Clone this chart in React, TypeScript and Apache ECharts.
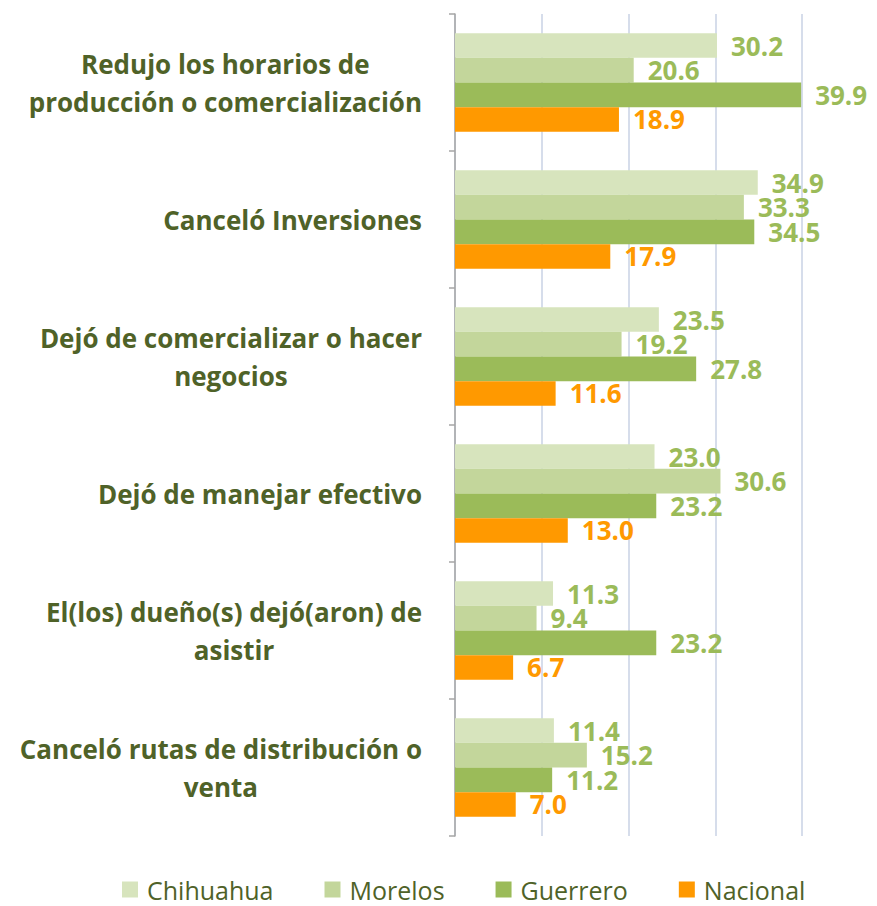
import React, { useEffect, useRef } from 'react';
import * as echarts from 'echarts';

const categories = [
  'Redujo los horarios de\nproducción o comercialización',
  'Canceló Inversiones',
  'Dejó de comercializar o hacer\nnegocios',
  'Dejó de manejar efectivo',
  'El(los) dueño(s) dejó(aron) de\nasistir',
  'Canceló rutas de distribución o\nventa',
];
const seriesNames = ['Chihuahua', 'Morelos', 'Guerrero', 'Nacional'];
const chihuahua = [30.2, 34.9, 23.5, 23.0, 11.3, 11.4];
const morelos = [20.6, 33.3, 19.2, 30.6, 9.4, 15.2];
const guerrero = [39.9, 34.5, 27.8, 23.2, 23.2, 11.2];
const nacional = [18.9, 17.9, 11.6, 13.0, 6.7, 7.0];
const xMin = 0;
const xMax = 40;
const xInterval = 10;

const barColors = ['#D7E4BD', '#C3D69B', '#9BBB59', '#FF9900'];
const labelColors = ['#9BBB59', '#9BBB59', '#9BBB59', '#FF9900'];
const textColor = '#4F6228';
const FONT = '"Open Sans", "Noto Sans", sans-serif';

export default function App() {
  const ref = useRef<HTMLDivElement>(null);
  useEffect(() => {
    document.body.style.margin = '0';
    const chart = echarts.init(ref.current!, undefined, { renderer: 'svg' });
    const data = [chihuahua, morelos, guerrero, nacional];
    chart.setOption({
      animation: false,
      backgroundColor: '#ffffff',
      textStyle: { fontFamily: FONT },
      grid: { left: 455, right: 75, top: 14, bottom: 70, containLabel: false },
      xAxis: {
        type: 'value',
        min: xMin,
        max: xMax,
        interval: xInterval,
        axisLabel: { show: false },
        axisLine: { show: false },
        axisTick: { show: false },
        splitLine: { show: true, lineStyle: { color: '#D6DDEB', width: 2 } },
      },
      yAxis: {
        type: 'category',
        inverse: true,
        data: categories,
        axisLine: { show: true, lineStyle: { color: '#A6A6A6', width: 1.5 } },
        axisTick: { show: true, length: 6, lineStyle: { color: '#A6A6A6', width: 1.5 } },
        splitLine: { show: false },
        axisLabel: {
          margin: 33,
          align: 'right',
          formatter: (v: string) => v.split('\n').map((l) => `{c|${l}}`).join('\n'),
          rich: {
            c: {
              align: 'center',
              fontFamily: FONT,
              fontSize: 26,
              fontWeight: 'bold',
              color: textColor,
              lineHeight: 38,
            },
          },
        },
      },
      legend: {
        top: 872,
        left: 117,
        padding: 5,
        itemWidth: 16,
        itemHeight: 16,
        itemGap: 51,
        icon: 'rect',
        textStyle: { fontFamily: FONT, fontSize: 25, color: textColor, padding: [0, 0, 0, 4] },
        data: seriesNames,
      },
      series: seriesNames.map((name, i) => ({
        name,
        type: 'bar',
        data: data[i],
        barGap: '0%',
        barCategoryGap: '28%',
        itemStyle: { color: barColors[i] },
        label: {
          show: true,
          position: 'right',
          distance: 14,
          fontFamily: FONT,
          fontSize: 26,
          fontWeight: 'bold',
          color: labelColors[i],
          formatter: (p: any) => Number(p.value).toFixed(1),
        },
      })),
    });
    return () => chart.dispose();
  }, []);
  return (
    <div
      ref={ref}
      style={{ position: 'fixed', left: 0, top: 0, width: 877, height: 906 }}
    />
  );
}
